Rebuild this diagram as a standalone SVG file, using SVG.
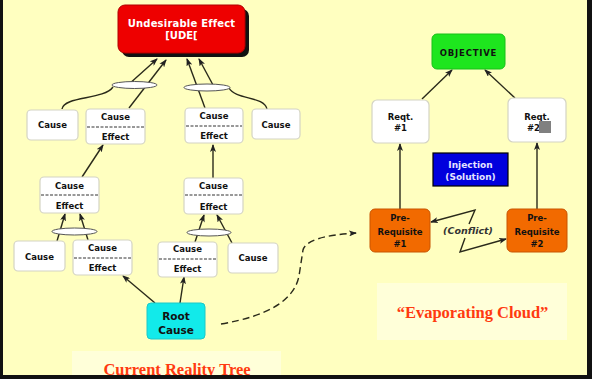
<svg xmlns="http://www.w3.org/2000/svg" width="592" height="379" viewBox="0 0 592 379">
<defs>
<marker id="ah" markerWidth="8" markerHeight="6" refX="7" refY="3" orient="auto" markerUnits="userSpaceOnUse">
<path d="M0,0 L8,3 L0,6 L2,3 z" fill="#222"/>
</marker>
<style>
.t{font-family:"DejaVu Sans",Verdana,sans-serif;font-weight:bold;font-size:8.5px;fill:#111;text-anchor:middle}
.box{fill:#fff;stroke:#d4d4c4;stroke-width:1.2}
.div{stroke:#333;stroke-width:1;stroke-dasharray:3,1.5}
.ln{fill:none;stroke:#2a2a1a;stroke-width:1.4}
.and{fill:#fff;stroke:#555;stroke-width:1}
.big{font-family:"Liberation Serif","Times New Roman",serif;font-weight:bold;font-size:16.5px;fill:#ff3a10;text-anchor:middle}
</style>
</defs>
<rect x="0" y="0" width="592" height="379" fill="#ffffc0"/>
<rect x="72" y="351" width="209" height="26" fill="#ffffd9"/>
<rect x="377" y="283" width="190" height="57" fill="#ffffd9"/>

<g id="connectors">
<path class="ln" d="M62,109 C64,96 104,100 113,87"/>
<path class="ln" d="M128,85 L157,59" marker-end="url(#ah)"/>
<path class="ln" d="M129,108 L166,60" marker-end="url(#ah)"/>
<path class="ln" d="M205,108 L187,59" marker-end="url(#ah)"/>
<path class="ln" d="M267,109 C264,96 236,100 229,88"/>
<path class="ln" d="M213,85 L199,59" marker-end="url(#ah)"/>
<path class="ln" d="M82,177 L103,145" marker-end="url(#ah)"/>
<path class="ln" d="M213,178 L213,145" marker-end="url(#ah)"/>
<path class="ln" d="M57,241 L65,214" marker-end="url(#ah)"/>
<path class="ln" d="M88,240 L80,214" marker-end="url(#ah)"/>
<path class="ln" d="M195,242 L204,215" marker-end="url(#ah)"/>
<path class="ln" d="M232,243 L217,215" marker-end="url(#ah)"/>
<path class="ln" d="M155,303 L123,276" marker-end="url(#ah)"/>
<path class="ln" d="M180,303 L184,277" marker-end="url(#ah)"/>
<path class="ln" d="M221,324 Q292,312 299,276 L303,250 Q307,236 356,233" stroke-width="2.4" stroke-dasharray="7,4" marker-end="url(#ah)"/>
<path class="ln" d="M422,99 L452,70" marker-end="url(#ah)"/>
<path class="ln" d="M515,98 L485,70" marker-end="url(#ah)"/>
<path class="ln" d="M400,209 L400,144" marker-end="url(#ah)"/>
<path class="ln" d="M537,209 L537,143" marker-end="url(#ah)"/>
<path class="ln" d="M469,224 L475,210 L431,222" marker-end="url(#ah)"/>
<path class="ln" d="M465,238 L460,252 L506,239" marker-end="url(#ah)"/>
<ellipse class="and" cx="134.5" cy="85" rx="22.5" ry="3.5"/>
<ellipse class="and" cx="207" cy="87.5" rx="23" ry="3.5"/>
<ellipse class="and" cx="74.5" cy="231.5" rx="22.5" ry="3.5"/>
<ellipse class="and" cx="209" cy="232.5" rx="22" ry="3.5"/>
</g>

<g id="ude">
<rect x="122" y="9" width="127" height="48" rx="7" fill="#111"/>
<rect x="118" y="5" width="127" height="48" rx="7" fill="#ee0000" stroke="#b00000" stroke-width="1"/>
<text class="t" x="181.5" y="27" style="font-size:10px;fill:#fff;letter-spacing:0.2px">Undesirable Effect</text>
<text class="t" x="181.5" y="38.5" style="font-size:10px;fill:#fff">[UDE[</text>
</g>

<g id="r1-cause-left">
<rect class="box" x="27" y="110" width="51" height="30" rx="4"/>
<text class="t" x="52.5" y="128">Cause</text>
</g>
<g id="r1-ce-left">
<rect class="box" x="86" y="109" width="59" height="35" rx="4"/>
<line class="div" x1="87" y1="127" x2="144" y2="127"/>
<text class="t" x="115.5" y="120">Cause</text>
<text class="t" x="115.5" y="140">Effect</text>
</g>
<g id="r1-ce-right">
<rect class="box" x="185" y="108" width="58" height="35" rx="4"/>
<line class="div" x1="186" y1="126" x2="242" y2="126"/>
<text class="t" x="214" y="119">Cause</text>
<text class="t" x="214" y="139">Effect</text>
</g>
<g id="r1-cause-right">
<rect class="box" x="252" y="109" width="48" height="30" rx="4"/>
<text class="t" x="276" y="128">Cause</text>
</g>

<g id="r2-ce-left">
<rect class="box" x="40" y="177" width="59" height="36" rx="4"/>
<line class="div" x1="41" y1="195" x2="98" y2="195"/>
<text class="t" x="69.5" y="189">Cause</text>
<text class="t" x="69.5" y="209">Effect</text>
</g>
<g id="r2-ce-right">
<rect class="box" x="184" y="178" width="59" height="36" rx="4"/>
<line class="div" x1="185" y1="195" x2="242" y2="195"/>
<text class="t" x="213.5" y="189">Cause</text>
<text class="t" x="213.5" y="210">Effect</text>
</g>

<g id="r3-cause-left">
<rect class="box" x="14" y="241" width="51" height="30" rx="4"/>
<text class="t" x="39.5" y="260">Cause</text>
</g>
<g id="r3-ce-left">
<rect class="box" x="73" y="240" width="59" height="35" rx="4"/>
<line class="div" x1="74" y1="258" x2="131" y2="258"/>
<text class="t" x="102.5" y="251">Cause</text>
<text class="t" x="102.5" y="271">Effect</text>
</g>
<g id="r3-ce-right">
<rect class="box" x="158" y="242" width="59" height="35" rx="4"/>
<line class="div" x1="159" y1="259" x2="216" y2="259"/>
<text class="t" x="187.5" y="252">Cause</text>
<text class="t" x="187.5" y="272">Effect</text>
</g>
<g id="r3-cause-right">
<rect class="box" x="228" y="243" width="50" height="30" rx="4"/>
<text class="t" x="253" y="261">Cause</text>
</g>

<g id="root">
<rect x="147" y="303" width="58" height="36" rx="4" fill="#12eaea" stroke="#1cc8c8" stroke-width="1"/>
<text class="t" x="176" y="320" style="font-size:10.5px">Root</text>
<text class="t" x="176" y="334" style="font-size:10.5px">Cause</text>
</g>

<g id="objective">
<rect x="432" y="34" width="73" height="35" rx="5" fill="#1ee61e" stroke="#18c018" stroke-width="1"/>
<text class="t" x="468.5" y="56" style="font-size:8.5px;letter-spacing:0.8px">OBJECTIVE</text>
</g>
<g id="reqt1">
<rect class="box" x="372" y="100" width="57" height="43" rx="5"/>
<text class="t" x="400.5" y="120">Reqt.</text>
<text class="t" x="400.5" y="131">#1</text>
</g>
<g id="reqt2">
<rect class="box" x="508" y="98" width="58" height="44" rx="5"/>
<text class="t" x="537" y="120">Reqt.</text>
<text class="t" x="540" y="131" style="text-anchor:end">#2</text>
<rect x="539" y="121" width="12" height="12" fill="#808080"/>
</g>
<g id="injection">
<rect x="433" y="153" width="75" height="33" fill="#0000dd" stroke="#000" stroke-width="1.2"/>
<text class="t" x="470.5" y="168" style="font-size:9px;fill:#e4e4ff">Injection</text>
<text class="t" x="470.5" y="180" style="font-size:9px;fill:#e4e4ff">(Solution)</text>
</g>
<g id="prereq1">
<rect x="370" y="209" width="60" height="43" rx="5" fill="#f26a00" stroke="#c85400" stroke-width="1"/>
<text class="t" x="400" y="221">Pre-</text>
<text class="t" x="400" y="235">Requisite</text>
<text class="t" x="400" y="247">#1</text>
</g>
<g id="prereq2">
<rect x="507" y="209" width="60" height="43" rx="5" fill="#f26a00" stroke="#c85400" stroke-width="1"/>
<text class="t" x="537" y="221">Pre-</text>
<text class="t" x="537" y="235">Requisite</text>
<text class="t" x="537" y="247">#2</text>
</g>
<text class="t" x="468" y="234" style="font-size:9.5px;font-style:italic;fill:#333">(Conflict)</text>

<text class="big" x="472.5" y="318">“Evaporating Cloud”</text>
<text class="big" x="177" y="375">Current Reality Tree</text>

<rect x="0" y="0" width="3" height="379" fill="#111"/>
<rect x="587" y="0" width="5" height="379" fill="#111"/>
<rect x="0" y="375" width="592" height="4" fill="#111"/>
</svg>
